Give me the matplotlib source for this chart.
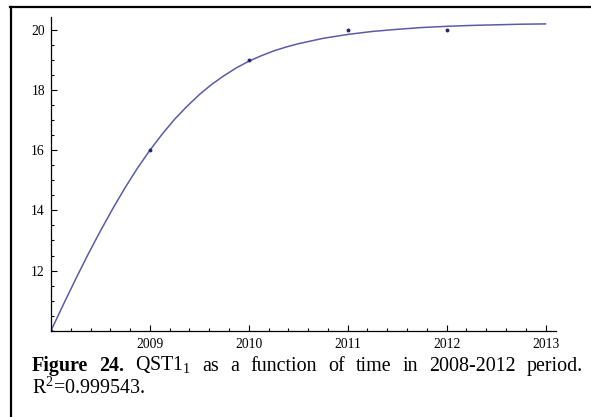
import matplotlib
matplotlib.use('Agg')
import matplotlib.pyplot as plt
from matplotlib.lines import Line2D
from matplotlib.ticker import MultipleLocator, FixedLocator

# observed data points
years = [2008, 2009, 2010, 2011, 2012]
qst = [10, 16, 19, 20, 20]

# fitted curve (finer where it bends most)
fit_t = [2008.0, 2008.125, 2008.25, 2008.375, 2008.5, 2008.625, 2008.75, 2008.875,
         2009.0, 2009.125, 2009.25, 2009.375, 2009.5, 2009.625, 2009.75, 2009.875,
         2010.0, 2010.125, 2010.25, 2010.375, 2010.5, 2010.75, 2011.0, 2011.25,
         2011.5, 2011.75, 2012.0, 2012.25, 2012.5, 2012.75, 2013.0]
fit_y = [10.0, 10.87, 11.72, 12.54, 13.32, 14.06, 14.76, 15.41,
         16.0, 16.54, 17.03, 17.46, 17.85, 18.19, 18.48, 18.74,
         18.96, 19.14, 19.3, 19.43, 19.54, 19.72, 19.85, 19.95,
         20.02, 20.08, 20.12, 20.15, 20.17, 20.19, 20.2]

x_ticks = [2009, 2010, 2011, 2012, 2013]
y_ticks = [12, 14, 16, 18, 20]

caption_words = ['Figure', '24.', 'QST1$_{\\mathrm{1}}$', 'as', 'a', 'function',
                 'of', 'time', 'in', '2008-2012', 'period.']
caption_line2 = 'R$^{\\mathrm{2}}$=0.999543.'

plt.rcParams['font.family'] = 'Liberation Serif'
plt.rcParams['mathtext.fontset'] = 'custom'
plt.rcParams['mathtext.rm'] = 'Liberation Serif'

W, H = 591, 417
fig = plt.figure(figsize=(W / 100, H / 100), dpi=100)
ax = fig.add_axes([51 / W, 86.3 / H, 505 / W, 313.7 / H])

ax.plot(fit_t, fit_y, color='#5b5ba8', lw=1.1)
ax.plot(years, qst, 'o', color='#26266e', ms=2.8, mec='none')

ax.set_xlim(2008, 2013.106)
ax.set_ylim(10, 20.43)
ax.spines['top'].set_visible(False)
ax.spines['right'].set_visible(False)
ax.spines['left'].set_linewidth(0.9)
ax.spines['bottom'].set_linewidth(0.9)

ax.xaxis.set_major_locator(FixedLocator(x_ticks))
ax.yaxis.set_major_locator(FixedLocator(y_ticks))
ax.xaxis.set_minor_locator(MultipleLocator(0.2))
ax.yaxis.set_minor_locator(MultipleLocator(0.5))
ax.tick_params(which='both', direction='in', width=0.8, labelsize=9.8)
ax.tick_params(which='major', length=4.5)
ax.tick_params(which='minor', length=2.4)
ax.tick_params(axis='x', pad=5)
ax.tick_params(axis='y', pad=4.3)

# frame edges (top and left)
fig.add_artist(Line2D([10 / W, 1], [1 - 7 / H, 1 - 7 / H], transform=fig.transFigure,
                      color='black', lw=1.6))
fig.add_artist(Line2D([11 / W, 11 / W], [0, 1 - 7 / H], transform=fig.transFigure,
                      color='black', lw=1.6))

# justified first caption line
x0, x1 = 32, 583
base1 = (H - 371) / H
texts = []
for i, w in enumerate(caption_words):
    weight = 'bold' if i < 2 else 'normal'
    texts.append(fig.text(0, base1, w, fontsize=14.4, fontweight=weight,
                          va='baseline', ha='left'))
renderer = fig.canvas.get_renderer()
widths = [t.get_window_extent(renderer).width for t in texts]
gap = (x1 - x0 - sum(widths)) / (len(texts) - 1)
pos = x0
for t, w in zip(texts, widths):
    t.set_x(pos / W)
    pos += w + gap

fig.text(x0 / W, (H - 394) / H, caption_line2, fontsize=14.4, va='baseline', ha='left')

fig.savefig('out.png', dpi=100)
